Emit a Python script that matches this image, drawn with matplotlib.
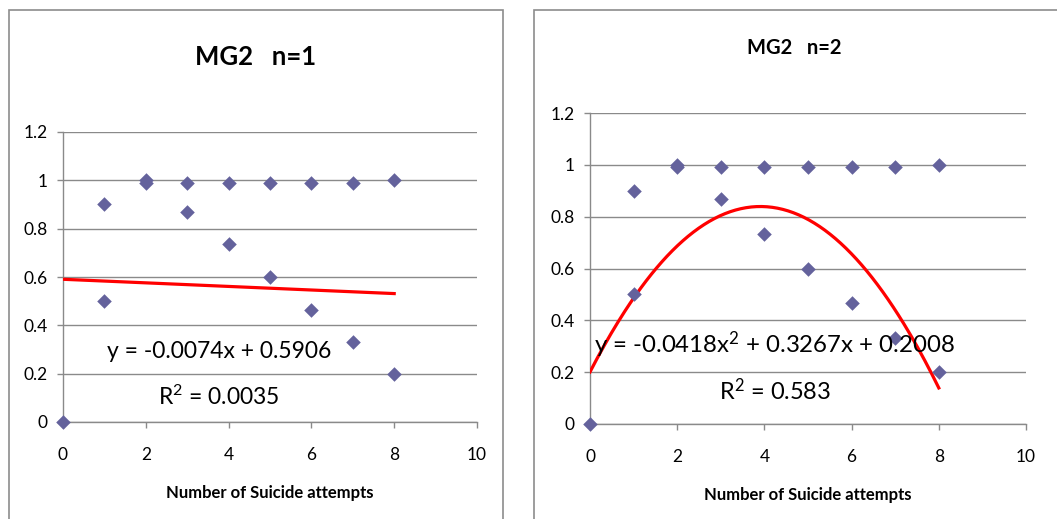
import matplotlib.pyplot as plt
import numpy as np
from matplotlib.patches import Rectangle

plt.rcParams['font.family'] = ['Lato', 'DejaVu Sans']

# attempts and scores (two values per attempt count, one at 0)
attempts = [0, 1, 1, 2, 2, 3, 3, 4, 4, 5, 5, 6, 6, 7, 7, 8, 8]
scores = [0.0, 0.9, 0.5, 1.0, 0.99, 0.99, 0.87, 0.99, 0.735,
          0.99, 0.6, 0.99, 0.465, 0.99, 0.33, 1.0, 0.2]

# trend lines
lin_coef = [-0.0074, 0.5906]
lin_r2 = 0.0035
quad_coef = [-0.0418, 0.3267, 0.2008]
quad_r2 = 0.583

x_ticks = [0, 2, 4, 6, 8, 10]
y_ticks = [0, 0.2, 0.4, 0.6, 0.8, 1.0, 1.2]
y_labels = ['0', '0.2', '0.4', '0.6', '0.8', '1', '1.2']

W, H = 1057, 519
fig = plt.figure(figsize=(W / 100, H / 100), dpi=100)

# outer chart frames
for x0, y0, w, h in [(9, -5, 494, 514), (534, -5, 530, 514)]:
    fig.patches.append(Rectangle((x0 / W, y0 / H), w / W, h / H,
                                 transform=fig.transFigure, fill=False,
                                 edgecolor='#8c8c8c', linewidth=1.2))


def make_axes(left, right, top, bottom):
    ax = fig.add_axes([left / W, 1 - bottom / H, (right - left) / W, (bottom - top) / H])
    ax.set_xlim(0, 10)
    ax.set_ylim(0, 1.2)
    ax.set_xticks(x_ticks)
    ax.set_yticks(y_ticks)
    ax.set_yticklabels(y_labels)
    ax.grid(axis='y', color='#8a8a8a', linewidth=1.0)
    ax.set_axisbelow(True)
    for s in ['top', 'right']:
        ax.spines[s].set_visible(False)
    for s in ['left', 'bottom']:
        ax.spines[s].set_color('#8a8a8a')
        ax.spines[s].set_linewidth(1.0)
    ax.tick_params(axis='both', direction='out', length=4, width=1.0,
                   color='#8a8a8a', labelsize=12.5, labelcolor='black')
    ax.tick_params(axis='x', pad=14)
    ax.tick_params(axis='y', pad=7)
    ax.set_xlabel('Number of Suicide attempts', fontsize=12,
                  fontweight='bold', labelpad=16)
    ax.scatter(attempts, scores, marker='D', s=55, color='#64629c',
               zorder=5, linewidths=0, clip_on=False)
    return ax


# left: linear trend
ax1 = make_axes(63, 477, 132, 422)
xs = np.array([0, 8])
ax1.plot(xs, np.polyval(lin_coef, xs), color='#ff0000', linewidth=2.3, zorder=4)
ax1.text(3.77, 0.29, 'y = -0.0074x + 0.5906', fontsize=16.5,
         ha='center', va='center', zorder=6)
ax1.text(3.77, 0.105, '$\\mathregular{R^2}$ = %.4f' % lin_r2, fontsize=16.5,
         ha='center', va='center', zorder=6)
fig.text(256 / W, 1 - 57 / H, 'MG2   n=1', fontsize=18.5, fontweight='bold',
         ha='center', va='center')

# right: quadratic trend
ax2 = make_axes(590, 1026, 113, 424)
xq = np.linspace(0, 8, 200)
ax2.plot(xq, np.polyval(quad_coef, xq), color='#ff0000', linewidth=2.3, zorder=4)
ax2.text(4.23, 0.304, 'y = -0.0418x$\\mathregular{^2}$ + 0.3267x + 0.2008',
         fontsize=17.3, ha='center', va='center', zorder=6)
ax2.text(4.24, 0.13, '$\\mathregular{R^2}$ = %.3f' % quad_r2, fontsize=17,
         ha='center', va='center', zorder=6)
fig.text(794 / W, 1 - 48 / H, 'MG2   n=2', fontsize=14.5, fontweight='bold',
         ha='center', va='center')

fig.savefig('out.png', dpi=100)
